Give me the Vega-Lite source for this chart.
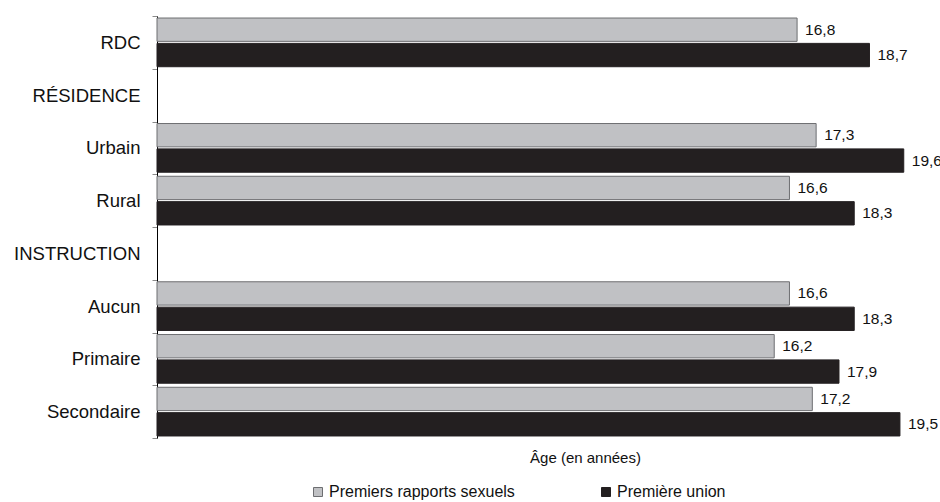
{
  "$schema": "https://vega.github.io/schema/vega-lite/v6.json",
  "autosize": {"type": "none"},
  "padding": {"left": 157, "top": 16, "right": 21, "bottom": 64},
  "width": 762,
  "height": 422,
  "background": "white",
  "config": {
    "font": "Liberation Sans",
    "view": {"stroke": null},
    "locale": {"number": {"decimal": ",", "thousands": " ", "grouping": [3], "currency": ["", " €"]}}
  },
  "data": {
    "values": [
      {"categorie": "RDC", "serie": "Premiers rapports sexuels", "age": 16.8},
      {"categorie": "RDC", "serie": "Première union", "age": 18.7},
      {"categorie": "Urbain", "serie": "Premiers rapports sexuels", "age": 17.3},
      {"categorie": "Urbain", "serie": "Première union", "age": 19.6},
      {"categorie": "Rural", "serie": "Premiers rapports sexuels", "age": 16.6},
      {"categorie": "Rural", "serie": "Première union", "age": 18.3},
      {"categorie": "Aucun", "serie": "Premiers rapports sexuels", "age": 16.6},
      {"categorie": "Aucun", "serie": "Première union", "age": 18.3},
      {"categorie": "Primaire", "serie": "Premiers rapports sexuels", "age": 16.2},
      {"categorie": "Primaire", "serie": "Première union", "age": 17.9},
      {"categorie": "Secondaire", "serie": "Premiers rapports sexuels", "age": 17.2},
      {"categorie": "Secondaire", "serie": "Première union", "age": 19.5}
    ]
  },
  "encoding": {
    "y": {
      "field": "categorie",
      "type": "nominal",
      "scale": {
        "domain": ["RDC", "RÉSIDENCE", "Urbain", "Rural", "INSTRUCTION", "Aucun", "Primaire", "Secondaire"],
        "paddingInner": 0,
        "paddingOuter": 0
      },
      "axis": {
        "title": null,
        "tickBand": "extent",
        "domainColor": "#000000",
        "domainWidth": 1,
        "tickColor": "#8a8a8a",
        "tickSize": 5,
        "labelPadding": 12,
        "labelFontSize": 18.5,
        "labelColor": "#111111",
        "labelFont": "Liberation Sans",
        "grid": false
      }
    },
    "yOffset": {
      "field": "serie",
      "type": "nominal",
      "scale": {"domain": ["Premiers rapports sexuels", "Première union"], "paddingInner": 0.08, "paddingOuter": 0.08}
    },
    "x": {
      "field": "age",
      "type": "quantitative",
      "scale": {"domain": [0, 20], "nice": false, "clamp": false},
      "axis": {
        "title": "Âge (en années)",
        "domain": false,
        "ticks": false,
        "labels": false,
        "grid": false,
        "titleFontSize": 15,
        "titleFontWeight": "normal",
        "titleColor": "#111111",
        "titleX": 428,
        "titleY": 12,
        "titleBaseline": "top"
      }
    }
  },
  "layer": [
    {
      "mark": {"type": "bar", "strokeWidth": 1},
      "encoding": {
        "color": {
          "field": "serie",
          "type": "nominal",
          "title": null,
          "scale": {"domain": ["Premiers rapports sexuels", "Première union"], "range": ["#C0C1C4", "#231F20"]},
          "legend": {
            "orient": "none",
            "direction": "horizontal",
            "legendX": 153,
            "legendY": 468,
            "padding": 0,
            "symbolType": "square",
            "symbolSize": 81,
            "symbolStrokeWidth": 1,
            "labelFontSize": 16,
            "labelColor": "#111111",
            "labelOffset": 3,
            "columnPadding": 83,
            "labelLimit": 400
          }
        },
        "stroke": {
          "field": "serie",
          "type": "nominal",
          "title": null,
          "scale": {"domain": ["Premiers rapports sexuels", "Première union"], "range": ["#6d6e71", "#231F20"]}
        }
      }
    },
    {
      "mark": {"type": "text", "align": "left", "baseline": "middle", "dx": 8, "dy": 0, "fontSize": 15.5, "color": "#111111"},
      "encoding": {
        "text": {"field": "age", "type": "quantitative", "format": ".1f"}
      }
    }
  ]
}
